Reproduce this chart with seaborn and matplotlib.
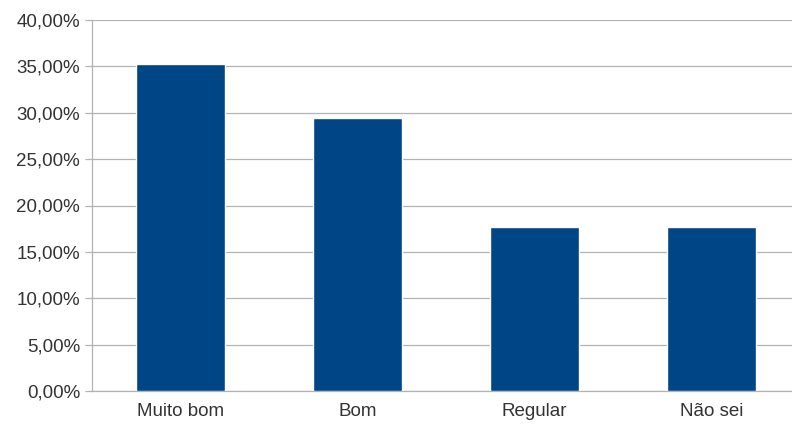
import matplotlib
matplotlib.use("Agg")
import matplotlib.pyplot as plt
import numpy as np
import pandas as pd
import seaborn as sns
from matplotlib.ticker import FuncFormatter, FixedLocator

categories = ["Muito bom", "Bom", "Regular", "Não sei"]
percentages = [35.29, 29.41, 17.65, 17.65]

data = pd.DataFrame({"Categoria": categories, "Percentual": percentages})

sns.set_style("white")
plt.rcParams["font.family"] = ["Liberation Sans", "DejaVu Sans"]

fig = plt.figure(figsize=(7.92, 4.25), dpi=100)
# the plot area runs slightly past the right edge, as in the original crop
ax = fig.add_axes([92 / 792, 34 / 425, 708 / 792, 371 / 425])

sns.barplot(data=data, x="Categoria", y="Percentual", color="#004586",
            width=0.5, saturation=1, ax=ax, zorder=3)

ax.set_xlim(-0.5, len(categories) - 0.5)
ax.set_ylim(0, 40)
ax.set_yticks(np.arange(0, 41, 5))
ax.yaxis.set_major_formatter(FuncFormatter(lambda v, p: f"{v:.2f}%".replace(".", ",")))
ax.grid(axis="y", color="#b3b3b3", linewidth=0.9, zorder=0)
ax.set_axisbelow(True)

# tick marks at category boundaries like the original
ax.xaxis.set_minor_locator(FixedLocator(np.arange(-0.5, len(categories), 1.0)))
ax.tick_params(axis="x", which="major", length=0, labelsize=13.5, pad=9, colors="#333333")
ax.tick_params(axis="x", which="minor", length=5, width=0.9, color="#b3b3b3", direction="out")
ax.tick_params(axis="y", length=5, width=0.9, color="#b3b3b3", labelsize=13.5, pad=3.5,
               labelcolor="#333333", left=True)

for side in ["top", "right"]:
    ax.spines[side].set_visible(False)
for side in ["left", "bottom"]:
    ax.spines[side].set_color("#b3b3b3")
    ax.spines[side].set_linewidth(0.9)

ax.set_xlabel("")
ax.set_ylabel("")

fig.savefig("out.png", dpi=100)
